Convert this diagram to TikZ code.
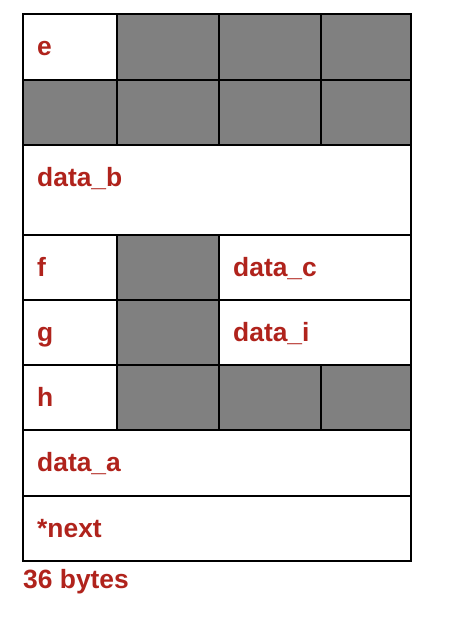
\documentclass[tikz,border=0pt]{standalone}
\usepackage{fontspec}
\setmainfont{Liberation Sans}
\definecolor{lblred}{RGB}{176,35,28}
\definecolor{padgray}{RGB}{128,128,128}
\tikzset{
  cellbox/.style={draw=black, line width=2.4pt, inner sep=0pt, outer sep=0pt, anchor=north west},
  padcell/.style={cellbox, fill=padgray},
  fieldcell/.style={cellbox, fill=white},
  fieldlabel/.style={anchor=base west, inner sep=0pt, text=lblred, font=\fontsize{26.4}{30}\selectfont\bfseries}
}
\newcommand\mkcell[6]{% name, style, x0, y0, x1, y1
  \node[#2, minimum width=#5pt-#3pt, minimum height=#6pt-#4pt] (#1) at (#3,#4) {};}
\begin{document}
\begin{tikzpicture}[x=1pt,y=-1pt]
\useasboundingbox (0,0) rectangle (448,618);
% row 1
\mkcell{e}{fieldcell}{23}{14}{117}{80}
\mkcell{p1}{padcell}{117}{14}{219}{80}
\mkcell{p2}{padcell}{219}{14}{321}{80}
\mkcell{p3}{padcell}{321}{14}{411}{80}
% row 2
\mkcell{p4}{padcell}{23}{80}{117}{145}
\mkcell{p5}{padcell}{117}{80}{219}{145}
\mkcell{p6}{padcell}{219}{80}{321}{145}
\mkcell{p7}{padcell}{321}{80}{411}{145}
% row 3
\mkcell{datab}{fieldcell}{23}{145}{411}{235}
% row 4
\mkcell{f}{fieldcell}{23}{235}{117}{300}
\mkcell{p8}{padcell}{117}{235}{219}{300}
\mkcell{datac}{fieldcell}{219}{235}{411}{300}
% row 5
\mkcell{g}{fieldcell}{23}{300}{117}{365}
\mkcell{p9}{padcell}{117}{300}{219}{365}
\mkcell{datai}{fieldcell}{219}{300}{411}{365}
% row 6
\mkcell{h}{fieldcell}{23}{365}{117}{430}
\mkcell{p10}{padcell}{117}{365}{219}{430}
\mkcell{p11}{padcell}{219}{365}{321}{430}
\mkcell{p12}{padcell}{321}{365}{411}{430}
% row 7, 8
\mkcell{dataa}{fieldcell}{23}{430}{411}{496}
\mkcell{next}{fieldcell}{23}{496}{411}{561}
% labels
\node[fieldlabel] (le) at (37,55.5) {e};
\node[fieldlabel] (ldatab) at (37,186.5) {data\_b};
\node[fieldlabel] (lf) at (37,276.5) {f};
\node[fieldlabel] (ldatac) at (233,276.5) {data\_c};
\node[fieldlabel] (lg) at (37,341.5) {g};
\node[fieldlabel] (ldatai) at (233,341.5) {data\_i};
\node[fieldlabel] (lh) at (37,406.5) {h};
\node[fieldlabel] (ldataa) at (37,471.5) {data\_a};
\node[fieldlabel] (lnext) at (37,537.5) {*next};
\node[fieldlabel] (lsize) at (23,588) {36 bytes};
\end{tikzpicture}
\end{document}
